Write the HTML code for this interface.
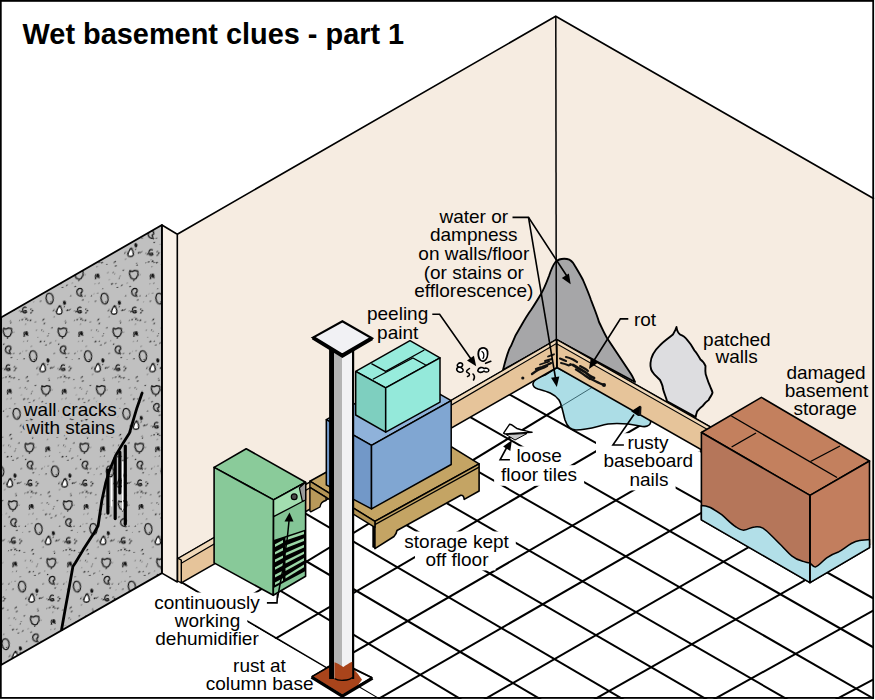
<!DOCTYPE html><html><head><meta charset="utf-8"><title>Wet basement clues</title><style>html,body{margin:0;padding:0;background:#fff;width:875px;height:700px;overflow:hidden}svg{display:block}text{font-family:"Liberation Sans",sans-serif}</style></head><body><svg width="875" height="700" viewBox="0 0 875 700"><defs><pattern id="conc" width="54.9" height="57.6" patternUnits="userSpaceOnUse" patternTransform="skewX(-15.985)"><rect x="-1" y="-1" width="56.9" height="59.6" fill="#c0c0c0"/><circle cx="24.8" cy="32.2" r="0.92" fill="#777"/><circle cx="24.8" cy="49.3" r="0.59" fill="#777"/><circle cx="34.6" cy="45.7" r="0.54" fill="#444"/><circle cx="7.8" cy="31.0" r="0.90" fill="#222"/><circle cx="32.7" cy="22.8" r="0.70" fill="#333"/><circle cx="34.2" cy="47.9" r="0.53" fill="#222"/><circle cx="10.4" cy="13.9" r="0.51" fill="#777"/><circle cx="17.9" cy="34.0" r="0.59" fill="#333"/><circle cx="35.2" cy="28.8" r="0.80" fill="#777"/><circle cx="35.9" cy="23.4" r="0.75" fill="#222"/><circle cx="38.9" cy="18.2" r="0.60" fill="#444"/><circle cx="1.6" cy="32.4" r="0.55" fill="#222"/><circle cx="46.5" cy="22.3" r="0.93" fill="#222"/><circle cx="11.7" cy="53.4" r="0.52" fill="#777"/><circle cx="53.8" cy="22.9" r="0.53" fill="#333"/><circle cx="42.7" cy="15.5" r="0.54" fill="#444"/><circle cx="0.8" cy="23.6" r="0.92" fill="#333"/><circle cx="13.5" cy="5.8" r="0.53" fill="#777"/><circle cx="9.8" cy="32.2" r="0.70" fill="#333"/><circle cx="54.1" cy="44.3" r="0.69" fill="#777"/><circle cx="6.4" cy="24.2" r="0.60" fill="#444"/><circle cx="47.5" cy="56.2" r="0.77" fill="#222"/><circle cx="11.6" cy="22.7" r="0.88" fill="#222"/><circle cx="2.3" cy="8.4" r="0.70" fill="#222"/><circle cx="42.4" cy="18.9" r="0.63" fill="#222"/><circle cx="4.1" cy="12.0" r="0.79" fill="#222"/><circle cx="33.0" cy="21.4" r="0.70" fill="#777"/><circle cx="45.7" cy="7.8" r="0.67" fill="#333"/><circle cx="17.1" cy="13.2" r="0.77" fill="#333"/><circle cx="8.7" cy="36.2" r="0.75" fill="#777"/><circle cx="48.4" cy="34.8" r="0.69" fill="#222"/><circle cx="6.0" cy="29.5" r="0.61" fill="#777"/><circle cx="14.1" cy="47.4" r="0.77" fill="#444"/><circle cx="28.6" cy="53.5" r="0.94" fill="#333"/><circle cx="12.5" cy="32.2" r="0.88" fill="#222"/><circle cx="15.4" cy="52.8" r="0.59" fill="#222"/><circle cx="3.8" cy="23.7" r="0.61" fill="#222"/><circle cx="9.7" cy="21.2" r="0.76" fill="#333"/><circle cx="5.1" cy="8.0" r="0.70" fill="#444"/><circle cx="36.1" cy="39.8" r="0.76" fill="#333"/><circle cx="32.4" cy="53.2" r="0.71" fill="#444"/><circle cx="38.5" cy="55.5" r="0.51" fill="#222"/><circle cx="26.5" cy="42.1" r="0.64" fill="#222"/><circle cx="4.1" cy="31.5" r="0.83" fill="#333"/><circle cx="43.6" cy="52.7" r="0.66" fill="#777"/><circle cx="49.5" cy="50.2" r="0.69" fill="#222"/><circle cx="47.4" cy="33.0" r="0.78" fill="#777"/><circle cx="20.8" cy="0.7" r="0.53" fill="#222"/><circle cx="35.1" cy="57.2" r="0.90" fill="#444"/><circle cx="21.3" cy="42.3" r="0.76" fill="#777"/><circle cx="25.4" cy="31.2" r="0.73" fill="#222"/><circle cx="17.0" cy="5.1" r="0.51" fill="#222"/><circle cx="27.3" cy="35.4" r="0.91" fill="#444"/><circle cx="49.2" cy="21.2" r="0.56" fill="#333"/><circle cx="28.5" cy="43.4" r="0.65" fill="#777"/><circle cx="27.4" cy="13.9" r="0.68" fill="#444"/><circle cx="10.9" cy="24.8" r="0.86" fill="#333"/><circle cx="48.3" cy="22.1" r="0.76" fill="#444"/><circle cx="11.5" cy="7.8" r="0.66" fill="#222"/><circle cx="39.0" cy="54.7" r="0.62" fill="#333"/><path transform="translate(-7.08,-13.20) skewX(15.98)" d="M-4,-4.2 L-1.6,-3.3 L1,-4.4 L4,-3.6 L4.3,0 L2.4,3.6 L0,4.6 L-2.8,3.2 L-4.3,-0.8 Z" fill="none" stroke="#111" stroke-width="1.25" stroke-linejoin="round" stroke-linecap="round"/><path transform="translate(-7.08,44.40) skewX(15.98)" d="M-4,-4.2 L-1.6,-3.3 L1,-4.4 L4,-3.6 L4.3,0 L2.4,3.6 L0,4.6 L-2.8,3.2 L-4.3,-0.8 Z" fill="none" stroke="#111" stroke-width="1.25" stroke-linejoin="round" stroke-linecap="round"/><path transform="translate(-7.08,102.00) skewX(15.98)" d="M-4,-4.2 L-1.6,-3.3 L1,-4.4 L4,-3.6 L4.3,0 L2.4,3.6 L0,4.6 L-2.8,3.2 L-4.3,-0.8 Z" fill="none" stroke="#111" stroke-width="1.25" stroke-linejoin="round" stroke-linecap="round"/><path transform="translate(47.82,-13.20) skewX(15.98)" d="M-4,-4.2 L-1.6,-3.3 L1,-4.4 L4,-3.6 L4.3,0 L2.4,3.6 L0,4.6 L-2.8,3.2 L-4.3,-0.8 Z" fill="none" stroke="#111" stroke-width="1.25" stroke-linejoin="round" stroke-linecap="round"/><path transform="translate(47.82,44.40) skewX(15.98)" d="M-4,-4.2 L-1.6,-3.3 L1,-4.4 L4,-3.6 L4.3,0 L2.4,3.6 L0,4.6 L-2.8,3.2 L-4.3,-0.8 Z" fill="none" stroke="#111" stroke-width="1.25" stroke-linejoin="round" stroke-linecap="round"/><path transform="translate(47.82,102.00) skewX(15.98)" d="M-4,-4.2 L-1.6,-3.3 L1,-4.4 L4,-3.6 L4.3,0 L2.4,3.6 L0,4.6 L-2.8,3.2 L-4.3,-0.8 Z" fill="none" stroke="#111" stroke-width="1.25" stroke-linejoin="round" stroke-linecap="round"/><path transform="translate(102.72,-13.20) skewX(15.98)" d="M-4,-4.2 L-1.6,-3.3 L1,-4.4 L4,-3.6 L4.3,0 L2.4,3.6 L0,4.6 L-2.8,3.2 L-4.3,-0.8 Z" fill="none" stroke="#111" stroke-width="1.25" stroke-linejoin="round" stroke-linecap="round"/><path transform="translate(102.72,44.40) skewX(15.98)" d="M-4,-4.2 L-1.6,-3.3 L1,-4.4 L4,-3.6 L4.3,0 L2.4,3.6 L0,4.6 L-2.8,3.2 L-4.3,-0.8 Z" fill="none" stroke="#111" stroke-width="1.25" stroke-linejoin="round" stroke-linecap="round"/><path transform="translate(102.72,102.00) skewX(15.98)" d="M-4,-4.2 L-1.6,-3.3 L1,-4.4 L4,-3.6 L4.3,0 L2.4,3.6 L0,4.6 L-2.8,3.2 L-4.3,-0.8 Z" fill="none" stroke="#111" stroke-width="1.25" stroke-linejoin="round" stroke-linecap="round"/><path transform="translate(-44.71,-11.20) skewX(15.98)" d="M0,-2.2 L0,2" fill="none" stroke="#111" stroke-width="1.25" stroke-linejoin="round" stroke-linecap="round"/><path transform="translate(-44.71,46.40) skewX(15.98)" d="M0,-2.2 L0,2" fill="none" stroke="#111" stroke-width="1.25" stroke-linejoin="round" stroke-linecap="round"/><path transform="translate(-44.71,104.00) skewX(15.98)" d="M0,-2.2 L0,2" fill="none" stroke="#111" stroke-width="1.25" stroke-linejoin="round" stroke-linecap="round"/><path transform="translate(10.19,-11.20) skewX(15.98)" d="M0,-2.2 L0,2" fill="none" stroke="#111" stroke-width="1.25" stroke-linejoin="round" stroke-linecap="round"/><path transform="translate(10.19,46.40) skewX(15.98)" d="M0,-2.2 L0,2" fill="none" stroke="#111" stroke-width="1.25" stroke-linejoin="round" stroke-linecap="round"/><path transform="translate(10.19,104.00) skewX(15.98)" d="M0,-2.2 L0,2" fill="none" stroke="#111" stroke-width="1.25" stroke-linejoin="round" stroke-linecap="round"/><path transform="translate(65.09,-11.20) skewX(15.98)" d="M0,-2.2 L0,2" fill="none" stroke="#111" stroke-width="1.25" stroke-linejoin="round" stroke-linecap="round"/><path transform="translate(65.09,46.40) skewX(15.98)" d="M0,-2.2 L0,2" fill="none" stroke="#111" stroke-width="1.25" stroke-linejoin="round" stroke-linecap="round"/><path transform="translate(65.09,104.00) skewX(15.98)" d="M0,-2.2 L0,2" fill="none" stroke="#111" stroke-width="1.25" stroke-linejoin="round" stroke-linecap="round"/><path transform="translate(-1.10,-53.40) skewX(15.98)" d="M1.5,-3.5 C-1,-4.5 -3.5,-2.5 -3,0.5 C-2.5,3 0,4.5 1.5,3.5 C2,2.5 0.5,1.5 1,0.5 C2.5,0 3,-2 1.5,-3.5 Z" fill="none" stroke="#111" stroke-width="1.25" stroke-linejoin="round" stroke-linecap="round"/><path transform="translate(-1.10,4.20) skewX(15.98)" d="M1.5,-3.5 C-1,-4.5 -3.5,-2.5 -3,0.5 C-2.5,3 0,4.5 1.5,3.5 C2,2.5 0.5,1.5 1,0.5 C2.5,0 3,-2 1.5,-3.5 Z" fill="none" stroke="#111" stroke-width="1.25" stroke-linejoin="round" stroke-linecap="round"/><path transform="translate(-1.10,61.80) skewX(15.98)" d="M1.5,-3.5 C-1,-4.5 -3.5,-2.5 -3,0.5 C-2.5,3 0,4.5 1.5,3.5 C2,2.5 0.5,1.5 1,0.5 C2.5,0 3,-2 1.5,-3.5 Z" fill="none" stroke="#111" stroke-width="1.25" stroke-linejoin="round" stroke-linecap="round"/><path transform="translate(53.80,-53.40) skewX(15.98)" d="M1.5,-3.5 C-1,-4.5 -3.5,-2.5 -3,0.5 C-2.5,3 0,4.5 1.5,3.5 C2,2.5 0.5,1.5 1,0.5 C2.5,0 3,-2 1.5,-3.5 Z" fill="none" stroke="#111" stroke-width="1.25" stroke-linejoin="round" stroke-linecap="round"/><path transform="translate(53.80,4.20) skewX(15.98)" d="M1.5,-3.5 C-1,-4.5 -3.5,-2.5 -3,0.5 C-2.5,3 0,4.5 1.5,3.5 C2,2.5 0.5,1.5 1,0.5 C2.5,0 3,-2 1.5,-3.5 Z" fill="none" stroke="#111" stroke-width="1.25" stroke-linejoin="round" stroke-linecap="round"/><path transform="translate(53.80,61.80) skewX(15.98)" d="M1.5,-3.5 C-1,-4.5 -3.5,-2.5 -3,0.5 C-2.5,3 0,4.5 1.5,3.5 C2,2.5 0.5,1.5 1,0.5 C2.5,0 3,-2 1.5,-3.5 Z" fill="none" stroke="#111" stroke-width="1.25" stroke-linejoin="round" stroke-linecap="round"/><path transform="translate(108.70,-53.40) skewX(15.98)" d="M1.5,-3.5 C-1,-4.5 -3.5,-2.5 -3,0.5 C-2.5,3 0,4.5 1.5,3.5 C2,2.5 0.5,1.5 1,0.5 C2.5,0 3,-2 1.5,-3.5 Z" fill="none" stroke="#111" stroke-width="1.25" stroke-linejoin="round" stroke-linecap="round"/><path transform="translate(108.70,4.20) skewX(15.98)" d="M1.5,-3.5 C-1,-4.5 -3.5,-2.5 -3,0.5 C-2.5,3 0,4.5 1.5,3.5 C2,2.5 0.5,1.5 1,0.5 C2.5,0 3,-2 1.5,-3.5 Z" fill="none" stroke="#111" stroke-width="1.25" stroke-linejoin="round" stroke-linecap="round"/><path transform="translate(108.70,61.80) skewX(15.98)" d="M1.5,-3.5 C-1,-4.5 -3.5,-2.5 -3,0.5 C-2.5,3 0,4.5 1.5,3.5 C2,2.5 0.5,1.5 1,0.5 C2.5,0 3,-2 1.5,-3.5 Z" fill="none" stroke="#111" stroke-width="1.25" stroke-linejoin="round" stroke-linecap="round"/><path transform="translate(-29.56,-47.00) skewX(15.98)" d="M-0.5,-5.5 C3,-5.5 4,-1 3.5,2 C3,5 1,6 -1,5 C-3.5,3.5 -4,-1 -3,-3.5 C-2.5,-5 -1.5,-5.5 -0.5,-5.5 Z" fill="none" stroke="#111" stroke-width="1.25" stroke-linejoin="round" stroke-linecap="round"/><path transform="translate(-29.56,10.60) skewX(15.98)" d="M-0.5,-5.5 C3,-5.5 4,-1 3.5,2 C3,5 1,6 -1,5 C-3.5,3.5 -4,-1 -3,-3.5 C-2.5,-5 -1.5,-5.5 -0.5,-5.5 Z" fill="none" stroke="#111" stroke-width="1.25" stroke-linejoin="round" stroke-linecap="round"/><path transform="translate(-29.56,68.20) skewX(15.98)" d="M-0.5,-5.5 C3,-5.5 4,-1 3.5,2 C3,5 1,6 -1,5 C-3.5,3.5 -4,-1 -3,-3.5 C-2.5,-5 -1.5,-5.5 -0.5,-5.5 Z" fill="none" stroke="#111" stroke-width="1.25" stroke-linejoin="round" stroke-linecap="round"/><path transform="translate(25.34,-47.00) skewX(15.98)" d="M-0.5,-5.5 C3,-5.5 4,-1 3.5,2 C3,5 1,6 -1,5 C-3.5,3.5 -4,-1 -3,-3.5 C-2.5,-5 -1.5,-5.5 -0.5,-5.5 Z" fill="none" stroke="#111" stroke-width="1.25" stroke-linejoin="round" stroke-linecap="round"/><path transform="translate(25.34,10.60) skewX(15.98)" d="M-0.5,-5.5 C3,-5.5 4,-1 3.5,2 C3,5 1,6 -1,5 C-3.5,3.5 -4,-1 -3,-3.5 C-2.5,-5 -1.5,-5.5 -0.5,-5.5 Z" fill="none" stroke="#111" stroke-width="1.25" stroke-linejoin="round" stroke-linecap="round"/><path transform="translate(25.34,68.20) skewX(15.98)" d="M-0.5,-5.5 C3,-5.5 4,-1 3.5,2 C3,5 1,6 -1,5 C-3.5,3.5 -4,-1 -3,-3.5 C-2.5,-5 -1.5,-5.5 -0.5,-5.5 Z" fill="none" stroke="#111" stroke-width="1.25" stroke-linejoin="round" stroke-linecap="round"/><path transform="translate(80.24,-47.00) skewX(15.98)" d="M-0.5,-5.5 C3,-5.5 4,-1 3.5,2 C3,5 1,6 -1,5 C-3.5,3.5 -4,-1 -3,-3.5 C-2.5,-5 -1.5,-5.5 -0.5,-5.5 Z" fill="none" stroke="#111" stroke-width="1.25" stroke-linejoin="round" stroke-linecap="round"/><path transform="translate(80.24,10.60) skewX(15.98)" d="M-0.5,-5.5 C3,-5.5 4,-1 3.5,2 C3,5 1,6 -1,5 C-3.5,3.5 -4,-1 -3,-3.5 C-2.5,-5 -1.5,-5.5 -0.5,-5.5 Z" fill="none" stroke="#111" stroke-width="1.25" stroke-linejoin="round" stroke-linecap="round"/><path transform="translate(80.24,68.20) skewX(15.98)" d="M-0.5,-5.5 C3,-5.5 4,-1 3.5,2 C3,5 1,6 -1,5 C-3.5,3.5 -4,-1 -3,-3.5 C-2.5,-5 -1.5,-5.5 -0.5,-5.5 Z" fill="none" stroke="#111" stroke-width="1.25" stroke-linejoin="round" stroke-linecap="round"/><path transform="translate(-16.57,-35.50) skewX(15.98)" d="M0.3,-4.5 C2,-2.5 3,0.5 2.6,2.6 C2.2,4.4 -2,4.6 -2.6,2.8 C-3,0.8 -1.5,-2 0.3,-4.5 Z" fill="#fff" stroke="#111" stroke-width="1.25" stroke-linejoin="round" stroke-linecap="round"/><path transform="translate(-16.57,22.10) skewX(15.98)" d="M0.3,-4.5 C2,-2.5 3,0.5 2.6,2.6 C2.2,4.4 -2,4.6 -2.6,2.8 C-3,0.8 -1.5,-2 0.3,-4.5 Z" fill="#fff" stroke="#111" stroke-width="1.25" stroke-linejoin="round" stroke-linecap="round"/><path transform="translate(-16.57,79.70) skewX(15.98)" d="M0.3,-4.5 C2,-2.5 3,0.5 2.6,2.6 C2.2,4.4 -2,4.6 -2.6,2.8 C-3,0.8 -1.5,-2 0.3,-4.5 Z" fill="#fff" stroke="#111" stroke-width="1.25" stroke-linejoin="round" stroke-linecap="round"/><path transform="translate(38.33,-35.50) skewX(15.98)" d="M0.3,-4.5 C2,-2.5 3,0.5 2.6,2.6 C2.2,4.4 -2,4.6 -2.6,2.8 C-3,0.8 -1.5,-2 0.3,-4.5 Z" fill="#fff" stroke="#111" stroke-width="1.25" stroke-linejoin="round" stroke-linecap="round"/><path transform="translate(38.33,22.10) skewX(15.98)" d="M0.3,-4.5 C2,-2.5 3,0.5 2.6,2.6 C2.2,4.4 -2,4.6 -2.6,2.8 C-3,0.8 -1.5,-2 0.3,-4.5 Z" fill="#fff" stroke="#111" stroke-width="1.25" stroke-linejoin="round" stroke-linecap="round"/><path transform="translate(38.33,79.70) skewX(15.98)" d="M0.3,-4.5 C2,-2.5 3,0.5 2.6,2.6 C2.2,4.4 -2,4.6 -2.6,2.8 C-3,0.8 -1.5,-2 0.3,-4.5 Z" fill="#fff" stroke="#111" stroke-width="1.25" stroke-linejoin="round" stroke-linecap="round"/><path transform="translate(93.23,-35.50) skewX(15.98)" d="M0.3,-4.5 C2,-2.5 3,0.5 2.6,2.6 C2.2,4.4 -2,4.6 -2.6,2.8 C-3,0.8 -1.5,-2 0.3,-4.5 Z" fill="#fff" stroke="#111" stroke-width="1.25" stroke-linejoin="round" stroke-linecap="round"/><path transform="translate(93.23,22.10) skewX(15.98)" d="M0.3,-4.5 C2,-2.5 3,0.5 2.6,2.6 C2.2,4.4 -2,4.6 -2.6,2.8 C-3,0.8 -1.5,-2 0.3,-4.5 Z" fill="#fff" stroke="#111" stroke-width="1.25" stroke-linejoin="round" stroke-linecap="round"/><path transform="translate(93.23,79.70) skewX(15.98)" d="M0.3,-4.5 C2,-2.5 3,0.5 2.6,2.6 C2.2,4.4 -2,4.6 -2.6,2.8 C-3,0.8 -1.5,-2 0.3,-4.5 Z" fill="#fff" stroke="#111" stroke-width="1.25" stroke-linejoin="round" stroke-linecap="round"/><path transform="translate(-13.43,-42.70) skewX(15.98)" d="M-0.8,-1.5 C0.8,-1.8 1.2,0 0.6,1.2 C-0.2,2 -1.2,1 -0.8,-1.5 Z" fill="#111" stroke="#111" stroke-width="1.25" stroke-linejoin="round" stroke-linecap="round"/><path transform="translate(-13.43,14.90) skewX(15.98)" d="M-0.8,-1.5 C0.8,-1.8 1.2,0 0.6,1.2 C-0.2,2 -1.2,1 -0.8,-1.5 Z" fill="#111" stroke="#111" stroke-width="1.25" stroke-linejoin="round" stroke-linecap="round"/><path transform="translate(-13.43,72.50) skewX(15.98)" d="M-0.8,-1.5 C0.8,-1.8 1.2,0 0.6,1.2 C-0.2,2 -1.2,1 -0.8,-1.5 Z" fill="#111" stroke="#111" stroke-width="1.25" stroke-linejoin="round" stroke-linecap="round"/><path transform="translate(41.47,-42.70) skewX(15.98)" d="M-0.8,-1.5 C0.8,-1.8 1.2,0 0.6,1.2 C-0.2,2 -1.2,1 -0.8,-1.5 Z" fill="#111" stroke="#111" stroke-width="1.25" stroke-linejoin="round" stroke-linecap="round"/><path transform="translate(41.47,14.90) skewX(15.98)" d="M-0.8,-1.5 C0.8,-1.8 1.2,0 0.6,1.2 C-0.2,2 -1.2,1 -0.8,-1.5 Z" fill="#111" stroke="#111" stroke-width="1.25" stroke-linejoin="round" stroke-linecap="round"/><path transform="translate(41.47,72.50) skewX(15.98)" d="M-0.8,-1.5 C0.8,-1.8 1.2,0 0.6,1.2 C-0.2,2 -1.2,1 -0.8,-1.5 Z" fill="#111" stroke="#111" stroke-width="1.25" stroke-linejoin="round" stroke-linecap="round"/><path transform="translate(96.37,-42.70) skewX(15.98)" d="M-0.8,-1.5 C0.8,-1.8 1.2,0 0.6,1.2 C-0.2,2 -1.2,1 -0.8,-1.5 Z" fill="#111" stroke="#111" stroke-width="1.25" stroke-linejoin="round" stroke-linecap="round"/><path transform="translate(96.37,14.90) skewX(15.98)" d="M-0.8,-1.5 C0.8,-1.8 1.2,0 0.6,1.2 C-0.2,2 -1.2,1 -0.8,-1.5 Z" fill="#111" stroke="#111" stroke-width="1.25" stroke-linejoin="round" stroke-linecap="round"/><path transform="translate(96.37,72.50) skewX(15.98)" d="M-0.8,-1.5 C0.8,-1.8 1.2,0 0.6,1.2 C-0.2,2 -1.2,1 -0.8,-1.5 Z" fill="#111" stroke="#111" stroke-width="1.25" stroke-linejoin="round" stroke-linecap="round"/><path transform="translate(-51.27,-35.50) skewX(15.98)" d="M1.5,-2.5 C0,-3.6 -2,-2.5 -2,0 C-2,2.5 0,3.3 1.5,2.5 L1.5,0.5 L0,0.5" fill="none" stroke="#111" stroke-width="1.25" stroke-linejoin="round" stroke-linecap="round"/><path transform="translate(-51.27,22.10) skewX(15.98)" d="M1.5,-2.5 C0,-3.6 -2,-2.5 -2,0 C-2,2.5 0,3.3 1.5,2.5 L1.5,0.5 L0,0.5" fill="none" stroke="#111" stroke-width="1.25" stroke-linejoin="round" stroke-linecap="round"/><path transform="translate(-51.27,79.70) skewX(15.98)" d="M1.5,-2.5 C0,-3.6 -2,-2.5 -2,0 C-2,2.5 0,3.3 1.5,2.5 L1.5,0.5 L0,0.5" fill="none" stroke="#111" stroke-width="1.25" stroke-linejoin="round" stroke-linecap="round"/><path transform="translate(3.63,-35.50) skewX(15.98)" d="M1.5,-2.5 C0,-3.6 -2,-2.5 -2,0 C-2,2.5 0,3.3 1.5,2.5 L1.5,0.5 L0,0.5" fill="none" stroke="#111" stroke-width="1.25" stroke-linejoin="round" stroke-linecap="round"/><path transform="translate(3.63,22.10) skewX(15.98)" d="M1.5,-2.5 C0,-3.6 -2,-2.5 -2,0 C-2,2.5 0,3.3 1.5,2.5 L1.5,0.5 L0,0.5" fill="none" stroke="#111" stroke-width="1.25" stroke-linejoin="round" stroke-linecap="round"/><path transform="translate(3.63,79.70) skewX(15.98)" d="M1.5,-2.5 C0,-3.6 -2,-2.5 -2,0 C-2,2.5 0,3.3 1.5,2.5 L1.5,0.5 L0,0.5" fill="none" stroke="#111" stroke-width="1.25" stroke-linejoin="round" stroke-linecap="round"/><path transform="translate(58.53,-35.50) skewX(15.98)" d="M1.5,-2.5 C0,-3.6 -2,-2.5 -2,0 C-2,2.5 0,3.3 1.5,2.5 L1.5,0.5 L0,0.5" fill="none" stroke="#111" stroke-width="1.25" stroke-linejoin="round" stroke-linecap="round"/><path transform="translate(58.53,22.10) skewX(15.98)" d="M1.5,-2.5 C0,-3.6 -2,-2.5 -2,0 C-2,2.5 0,3.3 1.5,2.5 L1.5,0.5 L0,0.5" fill="none" stroke="#111" stroke-width="1.25" stroke-linejoin="round" stroke-linecap="round"/><path transform="translate(58.53,79.70) skewX(15.98)" d="M1.5,-2.5 C0,-3.6 -2,-2.5 -2,0 C-2,2.5 0,3.3 1.5,2.5 L1.5,0.5 L0,0.5" fill="none" stroke="#111" stroke-width="1.25" stroke-linejoin="round" stroke-linecap="round"/><path transform="translate(-42.62,-12.30) skewX(15.98)" d="M-0.8,-1.5 C0.8,-1.8 1.2,0 0.6,1.2 C-0.2,2 -1.2,1 -0.8,-1.5 Z" fill="#111" stroke="#111" stroke-width="1.25" stroke-linejoin="round" stroke-linecap="round"/><path transform="translate(-42.62,45.30) skewX(15.98)" d="M-0.8,-1.5 C0.8,-1.8 1.2,0 0.6,1.2 C-0.2,2 -1.2,1 -0.8,-1.5 Z" fill="#111" stroke="#111" stroke-width="1.25" stroke-linejoin="round" stroke-linecap="round"/><path transform="translate(-42.62,102.90) skewX(15.98)" d="M-0.8,-1.5 C0.8,-1.8 1.2,0 0.6,1.2 C-0.2,2 -1.2,1 -0.8,-1.5 Z" fill="#111" stroke="#111" stroke-width="1.25" stroke-linejoin="round" stroke-linecap="round"/><path transform="translate(12.28,-12.30) skewX(15.98)" d="M-0.8,-1.5 C0.8,-1.8 1.2,0 0.6,1.2 C-0.2,2 -1.2,1 -0.8,-1.5 Z" fill="#111" stroke="#111" stroke-width="1.25" stroke-linejoin="round" stroke-linecap="round"/><path transform="translate(12.28,45.30) skewX(15.98)" d="M-0.8,-1.5 C0.8,-1.8 1.2,0 0.6,1.2 C-0.2,2 -1.2,1 -0.8,-1.5 Z" fill="#111" stroke="#111" stroke-width="1.25" stroke-linejoin="round" stroke-linecap="round"/><path transform="translate(12.28,102.90) skewX(15.98)" d="M-0.8,-1.5 C0.8,-1.8 1.2,0 0.6,1.2 C-0.2,2 -1.2,1 -0.8,-1.5 Z" fill="#111" stroke="#111" stroke-width="1.25" stroke-linejoin="round" stroke-linecap="round"/><path transform="translate(67.18,-12.30) skewX(15.98)" d="M-0.8,-1.5 C0.8,-1.8 1.2,0 0.6,1.2 C-0.2,2 -1.2,1 -0.8,-1.5 Z" fill="#111" stroke="#111" stroke-width="1.25" stroke-linejoin="round" stroke-linecap="round"/><path transform="translate(67.18,45.30) skewX(15.98)" d="M-0.8,-1.5 C0.8,-1.8 1.2,0 0.6,1.2 C-0.2,2 -1.2,1 -0.8,-1.5 Z" fill="#111" stroke="#111" stroke-width="1.25" stroke-linejoin="round" stroke-linecap="round"/><path transform="translate(67.18,102.90) skewX(15.98)" d="M-0.8,-1.5 C0.8,-1.8 1.2,0 0.6,1.2 C-0.2,2 -1.2,1 -0.8,-1.5 Z" fill="#111" stroke="#111" stroke-width="1.25" stroke-linejoin="round" stroke-linecap="round"/></pattern></defs><rect width="875" height="700" fill="#fff"/><polygon points="555.7,16.3 177.3,234.2 177.3,583.0 557.0,367.5" fill="#f6ece1"/>
<polygon points="555.7,16.3 874.0,198.8 874.0,546.0 557.0,367.5" fill="#f6ece1"/>
<path d="M503,370 C506,358 508,350 511,346 C514,338 517,332 521,326 C525,319 528,314 531,310 C535,304 538,299 541,294 C545,287 547,281 549,276 C551,270 553,265 555.5,262 C558,259.5 563,258.5 567,259 C571,259.5 573,262 575,266 C578,271 581,276 583,280 C586,287 589,294 591,300 C594,308 597,315 599,322 C602,328 604,333 607,338 C611,344 615,350 619,356 C623,362 627,368 631,374 C633,377 634,380 635,382 L557,340 Z" fill="#a6a6a8" stroke="#000" stroke-width="1.9" stroke-linejoin="round"/>
<path d="M675.4,329.9 L672.9,334.6 C670,337 664,341 659.7,345.6 C655,350 651,357 650.5,363 C650,368 652,372 654.3,374.3 C657,377 659,379 660,380 C662,384 663,387 662.9,388.6 C664,393 666,397 667.1,401.4 L695.7,417.1 C696,414 697,412 697.1,411.4 C699,409 701,407 702.9,405.7 C705,403 707,401 708.6,400 C710,397 712,395 712.5,392.7 C712,390 711,389 710,386 C708,382 707,378 705.7,374.3 C705,370 705.5,368 705.5,366 C704,363 703,361 700.6,359.7 C698,355 696,352 694.3,350.3 C692,346 690,343 688,340.9 C685,337 682,335 680.1,334.6 C678,333 677,331 676.5,327 Z" fill="#dddde0" stroke="#000" stroke-width="1.9" stroke-linejoin="round"/>
<line x1="555.8" y1="16.3" x2="556.3" y2="341" stroke="#000" stroke-width="1.5"/>
<polyline points="177.3,234.2 555.7,16.3 874,198.8" fill="none" stroke="#000" stroke-width="1.7" stroke-linejoin="miter"/>
<polygon points="161.9,225.0 177.3,234.2 177.3,582.0 161.9,573.1" fill="#f9f1e8" stroke="#000" stroke-width="1.6" stroke-linejoin="round"/>
<polygon points="1.0,317.5 161.9,225.0 161.9,573.1 1.0,665.0" fill="url(#conc)" stroke="#000" stroke-width="1.8" stroke-linejoin="round"/>
<polyline points="142.1,393.1 137.0,407.7 129.5,432.9 123.2,442.9 115.7,455.5 109.4,470.6 105.6,483.2 101.8,500.8 98.1,525.9 94.3,532.5 83.0,550.1 75.4,562.7 72.9,566.5 69.1,587.9 65.4,608.0 61.6,629.5" fill="none" stroke="#000" stroke-width="2.8" stroke-linejoin="round" stroke-linecap="round"/>
<line x1="107.9" y1="470" x2="107.9" y2="513.1" stroke="#000" stroke-width="3.2" stroke-linecap="round"/>
<line x1="115.2" y1="458" x2="115.2" y2="518.6" stroke="#000" stroke-width="3.2" stroke-linecap="round"/>
<line x1="119.8" y1="452" x2="119.8" y2="493" stroke="#000" stroke-width="3.2" stroke-linecap="round"/>
<line x1="125.3" y1="446" x2="125.3" y2="524.1" stroke="#000" stroke-width="3.2" stroke-linecap="round"/>
<line x1="111.6" y1="478" x2="111.6" y2="506" stroke="#fff" stroke-width="1.2" stroke-linecap="round"/>
<line x1="122.6" y1="462" x2="122.6" y2="510" stroke="#fff" stroke-width="1.2" stroke-linecap="round"/>
<g font-family="Liberation Sans, sans-serif" font-size="19" fill="none" stroke="#c0c0c0" stroke-width="6" stroke-linejoin="round"><text x="70.3" y="415.9" text-anchor="middle">wall cracks</text><text x="70.6" y="433.6" text-anchor="middle">with stains</text></g>
<clipPath id="floorclip"><polygon points="181.3,582.9 557.0,367.5 874.0,546.0 874.0,699.0 378.9,699.0 180.0,583.0"/></clipPath>
<g clip-path="url(#floorclip)" stroke="#000" stroke-width="2"><line x1="150" y1="563.6" x2="900" y2="1007.4"/><line x1="150" y1="512.3" x2="900" y2="963.3"/><line x1="150" y1="469.3" x2="900" y2="910.9"/><line x1="150" y1="422.6" x2="900" y2="861.2"/><line x1="150" y1="376.3" x2="900" y2="811.6"/><line x1="150" y1="332.2" x2="900" y2="764.3"/><line x1="150" y1="283.4" x2="900" y2="713.7"/><line x1="150" y1="234.2" x2="900" y2="662.6"/><line x1="150" y1="193.0" x2="900" y2="613.3"/><line x1="150" y1="657.1" x2="900" y2="199.6"/><line x1="150" y1="712.0" x2="900" y2="273.6"/><line x1="150" y1="770.3" x2="900" y2="335.8"/><line x1="150" y1="830.5" x2="900" y2="398.4"/><line x1="150" y1="891.8" x2="900" y2="460.2"/><line x1="150" y1="950.7" x2="900" y2="526.5"/><line x1="150" y1="1013.2" x2="900" y2="595.7"/><line x1="150" y1="1061.9" x2="900" y2="665.5"/><line x1="150" y1="1128.3" x2="900" y2="725.1"/><line x1="150" y1="1187.8" x2="900" y2="790.3"/><line x1="150" y1="1247.2" x2="900" y2="855.5"/><line x1="150" y1="1306.6" x2="900" y2="920.6"/><line x1="150" y1="1366.0" x2="900" y2="985.8"/></g>
<g><rect x="509.4" y="446.4" width="59.4" height="20.6" fill="#fff"/><rect x="494.1" y="465.2" width="90.0" height="20.6" fill="#fff"/><rect x="596.0" y="433.2" width="79.6" height="20.6" fill="#fff"/><rect x="596.4" y="451.3" width="103.8" height="20.6" fill="#fff"/><rect x="622.5" y="469.8" width="53.1" height="20.6" fill="#fff"/><rect x="397.3" y="531.5" width="118.5" height="20.6" fill="#fff"/><rect x="415.0" y="549.8" width="80.5" height="20.6" fill="#fff"/><rect x="147.2" y="592.5" width="119.6" height="20.6" fill="#fff"/><rect x="167.8" y="610.9" width="79.5" height="20.6" fill="#fff"/><rect x="148.3" y="629.2" width="111.2" height="20.6" fill="#fff"/><rect x="226.1" y="655.6" width="66.8" height="20.6" fill="#fff"/><rect x="198.7" y="674.2" width="121.7" height="20.6" fill="#fff"/></g>
<path d="M532.9,384 C534,379 538,377 545,375 L557,367.5 L640,411 C646,414 651,418 650.7,422.3 C650,426 646,427.5 640,426 C630,424 618,423 608,424 C598,426 588,430 576,430 C570,430 567,426 565,420 C563,413 562,405 559,400 C554,393 545,391 538,389 C535,388 533,386 532.9,384 Z" fill="#acdde6" stroke="#000" stroke-width="1.6" stroke-linejoin="round"/>
<clipPath id="pudclip"><path d="M532.9,384 C534,379 538,377 545,375 L557,367.5 L640,411 C646,414 651,418 650.7,422.3 C650,426 646,427.5 640,426 C630,424 618,423 608,424 C598,426 588,430 576,430 C570,430 567,426 565,420 C563,413 562,405 559,400 C554,393 545,391 538,389 C535,388 533,386 532.9,384 Z"/></clipPath>
<line clip-path="url(#pudclip)" x1="540.0" y1="419.2" x2="620.0" y2="370.4" stroke="#3a6670" stroke-width="1"/>
<polygon points="177.9,558.6 556.5,339.5 557.0,367.5 181.3,582.9" fill="#e6c49a" stroke="#000" stroke-width="1.6" stroke-linejoin="round"/>
<polygon points="177.9,558.6 556.5,339.5 556.5,343.5 181.3,563.2" fill="#f0d8b8" stroke="#000" stroke-width="1.2"/>
<polygon points="177.6,558.0 181.3,560.2 181.3,582.9 177.6,581.0" fill="#f0d4ae" stroke="#000" stroke-width="1.4" stroke-linejoin="round"/>
<polygon points="556.5,339.5 869.0,517.2 869.0,545.2 557.0,367.5" fill="#e6c49a" stroke="#000" stroke-width="1.6" stroke-linejoin="round"/>
<polygon points="556.5,339.5 869.0,517.2 869.0,521.2 557.0,344.0" fill="#f0d8b8" stroke="#000" stroke-width="1.2"/>
<line x1="556.8" y1="340" x2="557" y2="367.5" stroke="#000" stroke-width="1.4"/>
<path d="M560,358.5 C562,359 564,360.5 566,361" fill="none" stroke="#111" stroke-width="2.2" stroke-linecap="round"/>
<path d="M566,357 C569,357.5 571,358.5 573,359.5 C575,360.5 576,361.5 577,362" fill="none" stroke="#111" stroke-width="2.2" stroke-linecap="round"/>
<path d="M561,363 C564,363.5 566.5,364.5 569,365.5" fill="none" stroke="#111" stroke-width="2.0" stroke-linecap="round"/>
<path d="M573,365 C575,366 576.5,367 578,368 C581,369.5 583,371 585,372 C587,373.5 588.5,375 590,376 C591.5,377 593,377.5 594,378" fill="none" stroke="#111" stroke-width="2.8" stroke-linecap="round"/>
<path d="M576,369.5 C579,371 582,373.5 585,375.5 C587,377 589,378 590,379" fill="none" stroke="#111" stroke-width="2.4" stroke-linecap="round"/>
<path d="M580,366 C583,367.5 586,369 588,371" fill="none" stroke="#111" stroke-width="2.0" stroke-linecap="round"/>
<path d="M590,378.5 C592,379.5 594,380.5 595,381 C598,382.5 601,384 604,385" fill="none" stroke="#111" stroke-width="2.2" stroke-linecap="round"/>
<path d="M532,374 C534,372.5 536,371 538,370 C540,369 541.5,368.5 543,368 C544.5,367.5 546,366.5 547,366" fill="none" stroke="#111" stroke-width="2.3" stroke-linecap="round"/>
<path d="M536,369 C538,368.2 540,367.6 542,367 C544,366.2 545.5,365.6 547,365 C548.5,364.2 550,363.6 551,363" fill="none" stroke="#111" stroke-width="2.3" stroke-linecap="round"/>
<path d="M545,361 C547.5,360.3 550,359.6 552,359" fill="none" stroke="#111" stroke-width="2.0" stroke-linecap="round"/>
<path d="M548,356.5 C550,355.8 552,355 554,354.3" fill="none" stroke="#111" stroke-width="1.8" stroke-linecap="round"/>
<path d="M540,364.5 C543,363.5 546,362.5 549,361.5" fill="none" stroke="#111" stroke-width="1.8" stroke-linecap="round"/>
<circle cx="570.5" cy="364.5" r="1.6" fill="#111"/>
<circle cx="604" cy="385" r="2" fill="#111"/>
<circle cx="522.8" cy="378" r="1.6" fill="#111"/>
<path d="M638,409 C638,406 641,405 641.5,407 L641,416 L638,416 Z" fill="#111"/>
<polygon points="309.9,481.2 414.1,423.7 479.1,463.9 374.9,521.4" fill="#c4a464" stroke="#000" stroke-width="1.6" stroke-linejoin="round"/>
<path d="M374.9,521.4 L479.1,463.9 L479.1,491 L464.2,499.4 C464,496 462.5,495 460.7,495.3 L397,530.5 C396.5,533 395.5,535 394,536.5 L374.9,548.6 Z" fill="#c4a464" stroke="#000" stroke-width="1.6" stroke-linejoin="round"/>
<line x1="374.9" y1="524.6" x2="479.1" y2="467.1" stroke="#000" stroke-width="1.2"/>
<polygon points="309.9,481.2 374.9,521.4 374.9,527.4 309.9,487.4" fill="#b39455" stroke="#000" stroke-width="1.4" stroke-linejoin="round"/>
<path d="M309.9,487.4 L326,497.3 L326,500.5 C322.5,501 320.5,504 320,507 L310.7,511.8 L309.9,511 Z" fill="#b8995a" stroke="#000" stroke-width="1.4" stroke-linejoin="round"/>
<polygon points="372.3,525.8 374.9,527.4 374.9,548.6 372.3,547.2" fill="#000"/>
<polygon points="326.3,419.7 406.0,375.0 451.2,400.7 371.5,445.4" fill="#8fb2da" stroke="#000" stroke-width="1.5" stroke-linejoin="round"/>
<polygon points="326.3,419.7 371.5,445.4 371.5,508.9 326.3,484.8" fill="#7298c8" stroke="#000" stroke-width="1.5" stroke-linejoin="round"/>
<polygon points="371.5,445.4 451.2,400.7 451.2,464.5 371.5,508.9" fill="#80a6d2" stroke="#000" stroke-width="1.5" stroke-linejoin="round"/>
<polygon points="355.7,371.4 410.0,340.7 440.0,357.9 385.7,387.9" fill="#97ecdc" stroke="#000" stroke-width="1.5" stroke-linejoin="round"/>
<polygon points="355.7,371.4 385.7,387.9 385.7,432.1 355.7,415.0" fill="#7ecfbf" stroke="#000" stroke-width="1.5" stroke-linejoin="round"/>
<polygon points="385.7,387.9 440.0,357.9 440.0,402.1 385.7,432.1" fill="#94e9da" stroke="#000" stroke-width="1.5" stroke-linejoin="round"/>
<polyline points="371.4,363.6 385.7,371.4 424.3,350" fill="none" stroke="#000" stroke-width="1.3"/>
<polyline points="372.9,379.3 412.9,357.9 425.7,365" fill="none" stroke="#000" stroke-width="1.3"/>
<polygon points="214.1,467.4 246.2,448.7 305.6,482.3 273.6,499.9" fill="#8acb9a" stroke="#000" stroke-width="1.6" stroke-linejoin="round"/>
<polygon points="214.1,467.4 273.6,499.9 273.3,595.3 214.1,562.9" fill="#88c999" stroke="#000" stroke-width="1.6" stroke-linejoin="round"/>
<polygon points="273.6,499.9 305.6,482.3 305.6,576.2 273.3,595.3" fill="#84c596" stroke="#000" stroke-width="1.6" stroke-linejoin="round"/>
<polygon points="273.6,499.9 301.0,485.0 303.5,501.0 273.6,516.7" fill="#a2deb0" stroke="#000" stroke-width="1.3"/>
<circle cx="294.2" cy="496.8" r="2.9" fill="#4a4a4a" stroke="#000" stroke-width="1.2"/>
<polygon points="299.4,487.9 305.6,482.3 305.6,500.0 302.4,501.3" fill="#9a9a9a" stroke="#000" stroke-width="1.2" stroke-linejoin="round"/>
<polygon points="273.6,540.0 305.6,529.5 305.6,571.0 273.6,588.0" fill="#000"/>
<polygon points="275.0,544.3 283.0,540.1 283.0,542.7 275.0,546.9" fill="#9ad6a6"/>
<polygon points="285.5,537.8 304.0,531.6 304.0,534.3 285.5,540.5" fill="#9ad6a6"/>
<polygon points="275.0,552.0 283.0,547.8 283.0,550.4 275.0,554.6" fill="#9ad6a6"/>
<polygon points="285.5,545.5 304.0,538.2 304.0,540.9 285.5,548.2" fill="#9ad6a6"/>
<polygon points="275.0,559.6 283.0,555.4 283.0,558.0 275.0,562.2" fill="#9ad6a6"/>
<polygon points="285.5,553.1 304.0,544.8 304.0,547.5 285.5,555.8" fill="#9ad6a6"/>
<polygon points="275.0,567.2 283.0,563.0 283.0,565.6 275.0,569.8" fill="#9ad6a6"/>
<polygon points="285.5,560.7 304.0,551.4 304.0,554.1 285.5,563.4" fill="#9ad6a6"/>
<polygon points="275.0,574.8 283.0,570.6 283.0,573.2 275.0,577.4" fill="#9ad6a6"/>
<polygon points="285.5,568.3 304.0,558.0 304.0,560.7 285.5,571.0" fill="#9ad6a6"/>
<polygon points="275.0,582.4 283.0,578.2 283.0,580.8 275.0,585.0" fill="#9ad6a6"/>
<polygon points="285.5,575.9 304.0,564.5 304.0,567.2 285.5,578.6" fill="#9ad6a6"/>
<path d="M277.5,598 L282,574 L287.3,538 L289,521" fill="none" stroke="#000" stroke-width="1.5"/>
<polygon points="284.5,521.5 293.5,521.5 289.5,512.5" fill="#000"/>
<polygon points="701.4,432.5 761.4,397.4 869.5,461.0 810.0,495.4" fill="#c3805e" stroke="#000" stroke-width="1.6" stroke-linejoin="round"/>
<polygon points="701.4,432.5 810.0,495.4 810.0,582.6 701.4,519.8" fill="#b5765a" stroke="#000" stroke-width="1.6" stroke-linejoin="round"/>
<polygon points="810.0,495.4 869.5,461.0 869.5,547.6 810.0,582.6" fill="#c27e5e" stroke="#000" stroke-width="1.6" stroke-linejoin="round"/>
<path d="M701.4,505.4 C705,505.5 708,506.5 710.4,507.5 C714,509.5 718,512 721.7,514.7 C727,519 731,524 736.1,527 C739,529 742,530.5 744.4,530.1 C748,529.5 751,527 754.7,527 C758,526.5 760.5,527 762.9,528.1 C766,530 768.5,532.5 771.1,535.3 C775,539 778,542.5 781.4,545.5 C785,549 788,553 791.7,555.8 C795,558.5 798.5,560 802,561 C805,562 807,562.8 810,563 L810,582.6 L701.4,519.8 Z" fill="#b2dfe8" stroke="#000" stroke-width="1.5" stroke-linejoin="round"/>
<path d="M810,563 C812,565 813.5,567 815.3,567.1 C819,566 823,560.5 826.7,557.9 C831,555 835,553 839,551.7 C843,549.5 847,546 851.3,543.5 C854,542 857,540.8 859.6,540.4 C863,540 866.5,539.8 869.5,539.4 L869.5,547.6 L810,582.6 Z" fill="#b2dfe8" stroke="#000" stroke-width="1.5" stroke-linejoin="round"/>
<line x1="810" y1="495.4" x2="810" y2="582.6" stroke="#000" stroke-width="1.6"/>
<line x1="731.4" y1="416.0" x2="837" y2="477.5" stroke="#000" stroke-width="1.4"/>
<line x1="731.6" y1="447.0" x2="756" y2="433" stroke="#000" stroke-width="1.4"/>
<line x1="810.5" y1="461.5" x2="840" y2="446" stroke="#000" stroke-width="1.4"/>
<path d="M503.6,433.1 L509.5,424.3 C512,424 514,427 517,428.5 C522,430.5 527,431 532,432.3 L505,434 Z" fill="#fff" stroke="#000" stroke-width="1.4" stroke-linejoin="round"/>
<polygon points="506,434.5 527,433.5 515,440" fill="#c8c8c8" stroke="#000" stroke-width="1"/>
<path d="M480,349 C483,347 487,348 487.5,351.5 C488,355 487,359.5 484,361 C481,362 479,359 478.5,356 C478,353 478.5,350.5 480,349 Z" fill="#fff" stroke="#000" stroke-width="1.8" stroke-linecap="round" stroke-linejoin="round"/>
<path d="M482,351.5 C484,352.5 484.5,356 483,358.5" fill="none" stroke="#000" stroke-width="1.3" stroke-linecap="round" stroke-linejoin="round"/>
<path d="M485.6,363.3 L490.8,361.3" fill="none" stroke="#000" stroke-width="1.6" stroke-linecap="round" stroke-linejoin="round"/>
<path d="M477.8,370.5 C478.5,367.5 482,366.5 484,368.5 C486,367.5 489,368.5 488.8,370.5 C488.5,372.5 485.5,372.5 484,371 C482,373 478,372.8 477.8,370.5 Z" fill="#fff" stroke="#000" stroke-width="1.6" stroke-linecap="round" stroke-linejoin="round"/>
<path d="M458,364 C460,362 463,363 462.5,365.5 C462,367 460,367.5 459,367 C461,367.5 463.5,369 463,371 C462,373 457.5,372.5 456.8,370 C456.4,368.5 457.5,367.5 459,367 C457,366.5 456.8,365 458,364 Z" fill="#fff" stroke="#000" stroke-width="1.6" stroke-linecap="round" stroke-linejoin="round"/>
<path d="M469.5,368.5 C468,369.5 466.5,370 466.5,371.5 C467,373 469.5,373 469.5,374.5 C469.5,375.5 468.5,376.2 467.5,376.5" fill="none" stroke="#000" stroke-width="1.5" stroke-linecap="round" stroke-linejoin="round"/>
<path d="M473,374 C474.5,375.5 475,377.5 473.5,380" fill="none" stroke="#000" stroke-width="1.6" stroke-linecap="round" stroke-linejoin="round"/>
<polygon points="312.0,676.6 339.0,661.0 372.0,677.7 342.3,695.4" fill="#fff" stroke="#000" stroke-width="1.5" stroke-linejoin="round"/>
<polygon points="312.8,676.6 338.5,661.8 354.0,669.4 358.0,674.0 362.0,679.8 357.0,686.5 342.3,694.6" fill="#a9441b"/>
<polyline points="311.5,677.2 342.3,696.2 372.5,678.2" fill="none" stroke="#000" stroke-width="3.2" stroke-linejoin="round"/>
<line x1="312" y1="676.6" x2="339" y2="661" stroke="#000" stroke-width="1.5"/>
<line x1="353.7" y1="669.1" x2="372" y2="677.7" stroke="#000" stroke-width="1.5"/>
<linearGradient id="colg" gradientUnits="userSpaceOnUse" x1="329.1" y1="0" x2="354.2" y2="0"><stop offset="0" stop-color="#000"/><stop offset="0.215" stop-color="#000"/><stop offset="0.215" stop-color="#b3b3b3"/><stop offset="0.51" stop-color="#b3b3b3"/><stop offset="0.51" stop-color="#f1f1f3"/><stop offset="0.908" stop-color="#f1f1f3"/><stop offset="0.908" stop-color="#000"/><stop offset="1" stop-color="#000"/></linearGradient>
<rect x="329.1" y="345" width="25.1" height="334" fill="url(#colg)"/>
<path d="M334.5,662.3 C337,663 340,665 343.4,666.9 C346,665 349,663 352.2,661.7 L352.2,677.5 C349,680.5 338,681 334.5,678.5 Z" fill="#a9441b"/>
<path d="M334.5,678.5 C338,681.2 349,681 352.8,677.3" fill="none" stroke="#000" stroke-width="1.4"/>
<polygon points="312.9,337.6 342.4,321.3 372.0,338.3 342.4,355.6" fill="#f1f1f4" stroke="#000" stroke-width="2.2" stroke-linejoin="miter"/>
<polyline points="312.9,337.6 342.4,355.6 372.0,338.3" fill="none" stroke="#000" stroke-width="4"/>
<g font-family="Liberation Sans, sans-serif" font-size="19" fill="#000">
<text x="473.8" y="222.7" text-anchor="middle">water or</text>
<text x="473.8" y="241.4" text-anchor="middle">dampness</text>
<text x="473.8" y="260.1" text-anchor="middle">on walls/floor</text>
<text x="473.8" y="278.5" text-anchor="middle">(or stains or</text>
<text x="473.8" y="297.2" text-anchor="middle">efflorescence)</text>
<text x="397.6" y="319.8" text-anchor="middle">peeling</text>
<text x="397.7" y="338.6" text-anchor="middle">paint</text>
<text x="633.9" y="326.4" text-anchor="start">rot</text>
<text x="736.9" y="345.6" text-anchor="middle">patched</text>
<text x="736.7" y="362.9" text-anchor="middle">walls</text>
<text x="826" y="378.6" text-anchor="middle">damaged</text>
<text x="826.5" y="396.8" text-anchor="middle">basement</text>
<text x="825.2" y="414.8" text-anchor="middle">storage</text>
<text x="70.3" y="415.9" text-anchor="middle">wall cracks</text>
<text x="70.6" y="433.6" text-anchor="middle">with stains</text>
<text x="539.1" y="462.4" text-anchor="middle">loose</text>
<text x="539.1" y="481.2" text-anchor="middle">floor tiles</text>
<text x="648" y="449.2" text-anchor="middle">rusty</text>
<text x="648.3" y="467.3" text-anchor="middle">baseboard</text>
<text x="649" y="485.8" text-anchor="middle">nails</text>
<text x="456.6" y="547.5" text-anchor="middle">storage kept</text>
<text x="457" y="565.8" text-anchor="middle">off floor</text>
<text x="207" y="608.5" text-anchor="middle">continuously</text>
<text x="207.5" y="626.9" text-anchor="middle">working</text>
<text x="207" y="645.2" text-anchor="middle">dehumidifier</text>
<text x="259.5" y="671.6" text-anchor="middle">rust at</text>
<text x="259.6" y="690.2" text-anchor="middle">column base</text>
</g>
<polyline points="512.5,217.4 528.5,217.4 567.5,277" fill="none" stroke="#000" stroke-width="1.6" stroke-linejoin="miter"/>
<polygon points="570.7,284.2 561.8,278.0 568.9,273.5" fill="#000"/>
<polyline points="528.5,217.4 555.5,378" fill="none" stroke="#000" stroke-width="1.6" stroke-linejoin="miter"/>
<polygon points="556.8,387.0 551.0,377.8 559.3,376.4" fill="#000"/>
<polyline points="432.3,314.2 439.6,314.2 471,359" fill="none" stroke="#000" stroke-width="1.6" stroke-linejoin="miter"/>
<polygon points="476.2,366.3 467.0,360.5 473.9,355.7" fill="#000"/>
<polyline points="628.3,318.9 620.4,318.9 593,362" fill="none" stroke="#000" stroke-width="1.6" stroke-linejoin="miter"/>
<polygon points="589.0,369.0 590.8,358.3 597.9,362.8" fill="#000"/>
<polyline points="509.9,459.8 500.1,459.8 507,447" fill="none" stroke="#000" stroke-width="1.6" stroke-linejoin="miter"/>
<polygon points="511.9,440.2 510.3,450.9 503.1,446.6" fill="#000"/>
<polyline points="623.9,445 612.9,445 634,414.5" fill="none" stroke="#000" stroke-width="1.6" stroke-linejoin="miter"/>
<polygon points="640.3,405.5 638.1,416.1 631.1,411.3" fill="#000"/>
<polyline points="266.9,602.9 277,602.9 277.5,594" fill="none" stroke="#000" stroke-width="1.6" stroke-linejoin="miter"/>
<text x="22.6" y="44" font-family="Liberation Sans, sans-serif" font-weight="bold" font-size="28.9" fill="#000">Wet basement clues - part 1</text>
<rect x="0.8" y="0.9" width="872.4" height="697.0" fill="none" stroke="#000" stroke-width="1.8"/></svg></body></html>
